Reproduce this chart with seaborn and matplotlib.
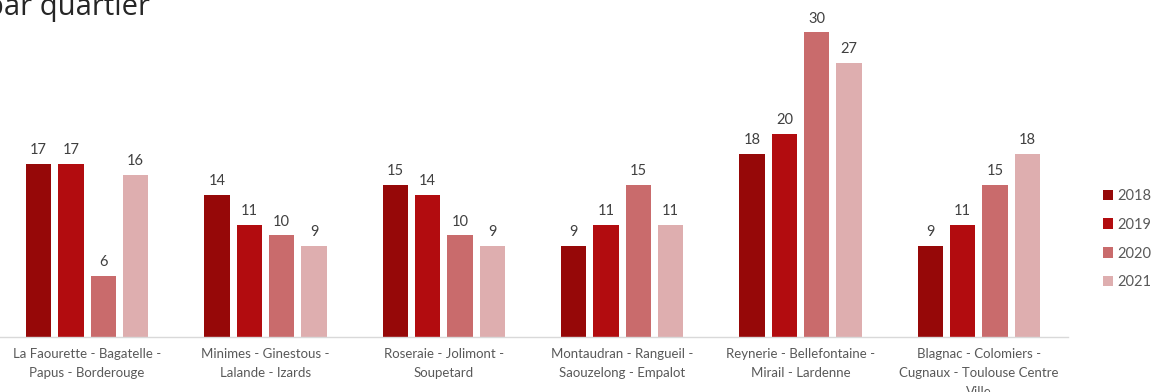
import matplotlib
matplotlib.use("Agg")
import matplotlib.pyplot as plt
import seaborn as sns
import pandas as pd
from matplotlib.patches import Patch

categories = [
    "La Faourette - Bagatelle -\nPapus - Borderouge",
    "Minimes - Ginestous -\nLalande - Izards",
    "Roseraie - Jolimont -\nSoupetard",
    "Montaudran - Rangueil -\nSaouzelong - Empalot",
    "Reynerie - Bellefontaine -\nMirail - Lardenne",
    "Blagnac - Colomiers -\nCugnaux - Toulouse Centre\nVille",
]
years = ["2018", "2019", "2020", "2021"]
v2018 = [17, 14, 15, 9, 18, 9]
v2019 = [17, 11, 14, 11, 20, 11]
v2020 = [6, 10, 10, 15, 30, 15]
v2021 = [16, 9, 9, 11, 27, 18]
colors = ["#960808", "#B20C0F", "#C96B6C", "#DEAEAF"]

rows = []
for y, vals in zip(years, [v2018, v2019, v2020, v2021]):
    for c, v in zip(categories, vals):
        rows.append({"quartier": c, "annee": y, "valeur": v})
df = pd.DataFrame(rows)

sns.set_style("white")
plt.rcParams["font.family"] = ["Lato", "DejaVu Sans"]

fig = plt.figure(figsize=(11.53, 3.92), dpi=100)
ax = fig.add_axes([-2 / 1153, 55 / 392, 1070 / 1153, 1 - 55 / 392])
sns.barplot(data=df, x="quartier", y="valeur", hue="annee", hue_order=years,
            palette=colors, width=0.725, gap=0.21, ax=ax, legend=False,
            saturation=1, edgecolor="none")

for cont in ax.containers:
    ax.bar_label(cont, padding=5, fontsize=10.5, color="#404040")

ax.set_xlim(-0.5, 5.5)
ax.set_ylim(0, 33.2)
ax.set_xlabel("")
ax.set_ylabel("")
ax.set_yticks([])
for s in ["top", "right", "left"]:
    ax.spines[s].set_visible(False)
ax.spines["bottom"].set_color("#D9D9D9")
ax.spines["bottom"].set_linewidth(1)
ax.tick_params(axis="x", length=0, pad=8, labelsize=9.5, labelcolor="#595959")
for t in ax.get_xticklabels():
    t.set_linespacing(1.7)

handles = [Patch(facecolor=c, edgecolor="none") for c in colors]
fig.legend(handles, years, loc="center left", bbox_to_anchor=(1103 / 1153, 0.39),
           frameon=False, fontsize=10.5, handlelength=0.7, handleheight=0.7,
           handletextpad=0.3, labelspacing=1.02, labelcolor="#595959",
           borderpad=0, borderaxespad=0)

fig.text(150 / 1153, 1 - 15 / 392, "par quartier", ha="right", va="baseline",
         fontsize=21, color="#262626", family=["Open Sans", "DejaVu Sans"])

fig.savefig("out.png", dpi=100)
